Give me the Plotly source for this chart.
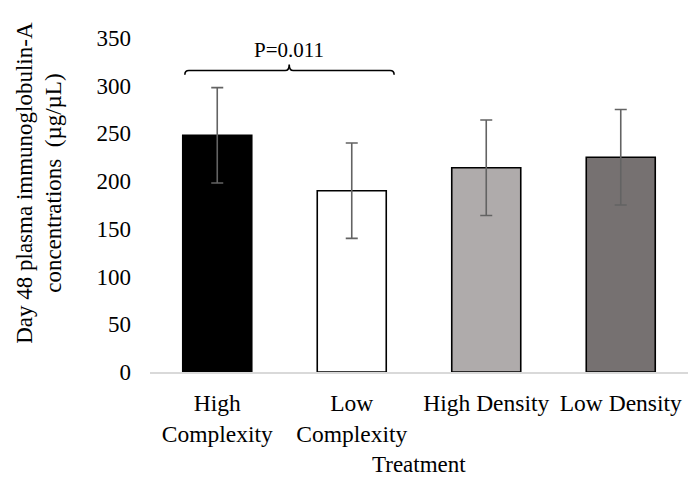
import plotly.graph_objects as go

categories = ["High<br>Complexity", "Low<br>Complexity", "High Density", "Low Density"]
values = [248, 190, 214, 225]
errors = [50, 50, 50, 50]
bar_colors = ["#000000", "#FFFFFF", "#AFABAB", "#767171"]
y_ticks = [0, 50, 100, 150, 200, 250, 300, 350]

FONT = "Liberation Serif, Times New Roman, serif"
xpos = list(range(len(categories)))

fig = go.Figure()
fig.add_trace(go.Bar(
    x=xpos, y=values,
    marker=dict(color=bar_colors, line=dict(color="#000000", width=1.6)),
    error_y=dict(type="data", array=errors, visible=True,
                 color="#636363", thickness=1.6, width=6),
    showlegend=False,
))

# significance bracket between first two categories
xl, xr, xm = -0.241, 1.315, 0.535
yb, yh, yp = 311.5, 316, 322.3
dx = 0.03
path = (f"M {xl},{yb} Q {xl},{yh} {xl+dx},{yh} L {xm-dx},{yh} "
        f"Q {xm},{yh} {xm},{yp} Q {xm},{yh} {xm+dx},{yh} "
        f"L {xr-dx},{yh} Q {xr},{yh} {xr},{yb}")
fig.add_shape(type="path", path=path, xref="x", yref="y",
              line=dict(color="#000000", width=1.6))
fig.add_annotation(x=xm, y=337, xref="x", yref="y", text="P=0.011",
                   showarrow=False, font=dict(family=FONT, size=21, color="#000000"))

fig.add_annotation(x=-0.206, y=0.567, xref="paper", yref="paper",
                   xanchor="center", yanchor="middle",
                   text="Day 48 plasma immunoglobulin-A<br>concentrations  (µg/µL)",
                   textangle=-90, showarrow=False,
                   font=dict(family=FONT, size=23, color="#000000"))
fig.add_annotation(x=0.5, y=-0.278, xref="paper", yref="paper",
                   text="Treatment", showarrow=False, yanchor="middle",
                   font=dict(family=FONT, size=23, color="#000000"))

fig.update_layout(
    width=688, height=482,
    margin=dict(l=150, r=0, t=38, b=110),
    paper_bgcolor="white", plot_bgcolor="white",
    bargap=0.487,
    font=dict(family=FONT, size=23, color="#000000"),
    xaxis=dict(tickmode="array", tickvals=xpos, ticktext=categories,
               range=[-0.5, len(categories) - 0.5],
               showline=True, linecolor="#D9D9D9", linewidth=1.5,
               showgrid=False, zeroline=False, ticks="",
               ticklabelstandoff=9,
               tickfont=dict(family=FONT, size=23.5, color="#000000")),
    yaxis=dict(range=[0, 350], tickvals=y_ticks, showgrid=False,
               showline=False, zeroline=False, ticks="",
               ticklabelstandoff=18,
               tickfont=dict(family=FONT, size=23, color="#000000")),
)

fig.write_html("out.html")
